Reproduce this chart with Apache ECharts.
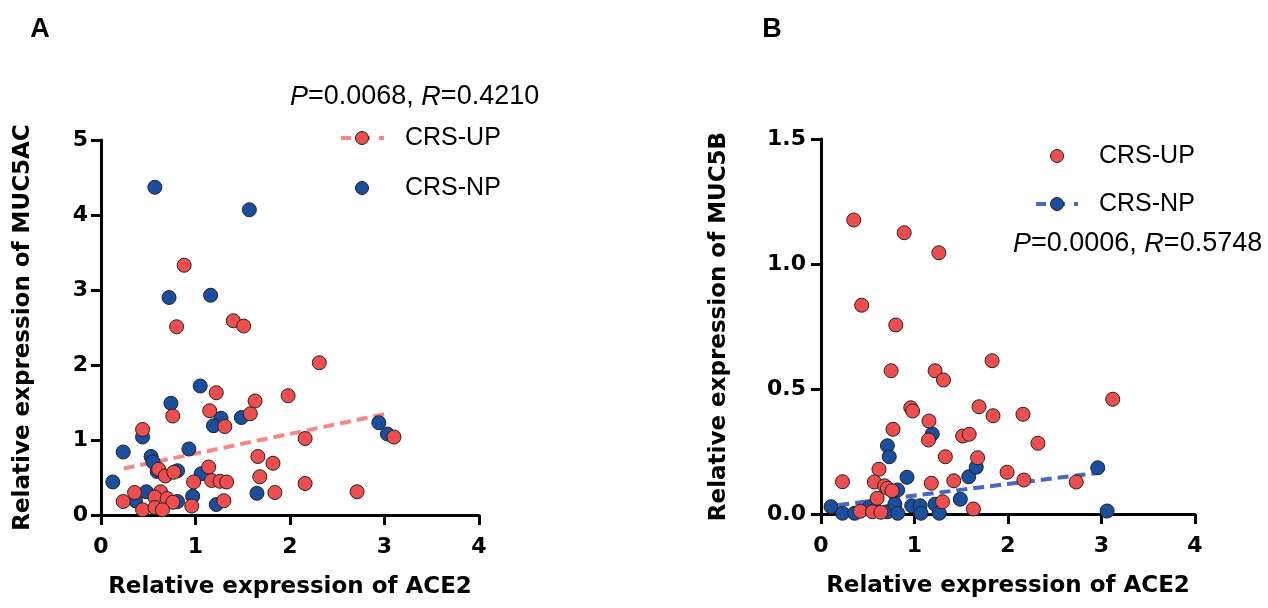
<!DOCTYPE html>
<html>
<head>
<meta charset="utf-8">
<script src="https://cdn.jsdelivr.net/npm/echarts@6/dist/echarts.min.js"></script>
<style>
  html, body { margin: 0; padding: 0; background: #fff; }
  #chart { width: 1268px; height: 608px; }
</style>
</head>
<body>
<div id="chart"></div>
<script>
// panel A: MUC5AC vs ACE2
const upA = [
  [0.88, 3.33], [0.80, 2.51], [1.40, 2.59], [1.51, 2.52], [1.22, 1.63], [1.98, 1.59],
  [1.63, 1.52], [0.76, 1.32], [1.15, 1.39], [1.58, 1.35], [1.31, 1.18], [0.44, 1.14],
  [1.66, 0.78], [1.82, 0.69], [1.68, 0.51], [1.84, 0.30], [0.61, 0.61], [0.68, 0.52],
  [0.77, 0.57], [1.14, 0.64], [0.98, 0.44], [1.17, 0.46], [1.26, 0.45], [1.33, 0.44],
  [0.355, 0.30], [0.235, 0.18], [0.63, 0.31], [0.57, 0.24], [0.70, 0.22], [0.76, 0.17],
  [0.44, 0.07], [0.57, 0.10], [0.65, 0.07], [0.96, 0.12], [1.30, 0.19], [2.31, 2.03],
  [2.16, 1.02], [3.10, 1.04], [2.16, 0.42], [2.71, 0.31]
];
const npA = [
  [0.57, 4.37], [1.57, 4.07], [0.72, 2.90], [1.16, 2.93], [1.05, 1.72], [0.74, 1.49],
  [0.44, 1.04], [0.235, 0.84], [0.53, 0.78], [0.55, 0.71], [0.93, 0.88], [1.27, 1.29],
  [1.19, 1.19], [1.485, 1.30], [0.595, 0.58], [0.81, 0.59], [1.06, 0.55], [0.125, 0.44],
  [0.48, 0.31], [0.365, 0.19], [0.81, 0.18], [0.97, 0.25], [1.22, 0.14], [1.65, 0.29],
  [2.94, 1.23], [3.03, 1.08]
];
const fitA = [[0.24, 0.62], [3.06, 1.36]];

// panel B: MUC5B vs ACE2
const upB = [
  [0.35, 1.176], [0.89, 1.125], [1.26, 1.045], [0.435, 0.835], [0.80, 0.756], [0.75, 0.573],
  [1.22, 0.573], [1.31, 0.536], [1.83, 0.613], [0.96, 0.425], [0.98, 0.412], [1.155, 0.372],
  [0.77, 0.339], [1.69, 0.429], [1.84, 0.393], [1.15, 0.296], [1.515, 0.312], [1.585, 0.319],
  [1.33, 0.229], [1.675, 0.225], [1.99, 0.167], [0.23, 0.129], [0.62, 0.179], [0.57, 0.128],
  [0.68, 0.113], [0.71, 0.103], [0.76, 0.093], [1.18, 0.123], [1.42, 0.133], [0.60, 0.063],
  [1.30, 0.049], [1.63, 0.02], [0.42, 0.011], [0.55, 0.009], [0.64, 0.007], [3.12, 0.459],
  [2.16, 0.399], [2.32, 0.283], [2.17, 0.136], [2.73, 0.128]
];
const npB = [
  [0.71, 0.273], [0.73, 0.229], [1.19, 0.32], [0.92, 0.147], [0.82, 0.096], [1.58, 0.149],
  [1.66, 0.187], [1.49, 0.059], [0.107, 0.029], [0.23, 0.003], [0.36, 0.003], [0.52, 0.029],
  [0.58, 0.016], [0.71, 0.009], [0.79, 0.039], [0.82, 0.003], [0.97, 0.033], [1.06, 0.033],
  [1.07, 0.003], [1.22, 0.039], [1.265, 0.003], [2.96, 0.185], [3.06, 0.012]
];
const fitB = [[0.185, 0.036], [2.97, 0.165]];

const statsA = ['0.0068', '0.4210'];
const statsB = ['0.0006', '0.5748'];

const RED = '#F04E4E';
const BLUE = '#1A4E9E';
const FIT_RED = '#F58787';
const FIT_BLUE = '#4866C2';
const FONT = '"Liberation Sans", Arial, sans-serif';
const BOLD_FONT = '"DejaVu Sans", sans-serif';

const axisCommon = {
  axisLine: { show: true, onZero: false, lineStyle: { color: '#000', width: 3 } },
  axisTick: { show: true, length: 10, lineStyle: { color: '#000', width: 3 } },
  splitLine: { show: false },
  axisLabel: { color: '#000', fontSize: 22, fontWeight: 'bold', fontFamily: BOLD_FONT },
  nameTextStyle: { color: '#000', fontSize: 23, fontWeight: 'bold', fontFamily: BOLD_FONT },
  nameLocation: 'middle'
};

const xAxisOf = (idx) => Object.assign({}, axisCommon, {
  type: 'value', gridIndex: idx, min: 0, max: 4, interval: 1,
  name: 'Relative expression of ACE2', nameGap: 61,
  axisLabel: Object.assign({}, axisCommon.axisLabel, { margin: 21 })
});

const scatter = (name, data, color, idx) => ({
  name: name, type: 'scatter', xAxisIndex: idx, yAxisIndex: idx,
  data: data, symbolSize: 14, clip: false, z: color === RED ? 4 : 3,
  itemStyle: { color: color, borderColor: '#222', borderWidth: 1, opacity: 1 }
});

const fit = (data, color, idx) => ({
  type: 'line', xAxisIndex: idx, yAxisIndex: idx, data: data,
  symbol: 'none', z: 2, silent: true,
  lineStyle: { color: color, width: 4, type: [11, 6] }
});

// legend pieces (not data)
const legendDot = (x, y, color) => ({
  type: 'circle', shape: { cx: x, cy: y, r: 6.5 },
  style: { fill: color, stroke: '#222', lineWidth: 1 }, z: 10
});
const legendDash = (x1, x2, y, color) => ({
  type: 'line', shape: { x1: x1, y1: y, x2: x2, y2: y },
  style: { stroke: color, lineWidth: 4, lineDash: [10, 9] }, z: 9
});
const legendText = (x, y, text) => ({
  type: 'text', x: x, y: y,
  style: { text: text, fill: '#000', fontSize: 25, fontFamily: FONT, verticalAlign: 'middle' }, z: 10
});
const statText = (x, y, s) => ({
  type: 'text', x: x, y: y, z: 10,
  style: {
    text: '{i|P}=' + s[0] + ', {i|R}=' + s[1],
    fill: '#000', fontSize: 27, fontFamily: FONT, verticalAlign: 'middle',
    rich: { i: { fontStyle: 'italic', fontSize: 27, fontFamily: FONT } }
  }
});
const panelLetter = (x, text) => ({
  type: 'text', x: x, y: 30, z: 10,
  style: { text: text, fill: '#000', fontSize: 27, fontWeight: 'bold', fontFamily: FONT,
           align: 'center', verticalAlign: 'middle' }
});

const chart = echarts.init(document.getElementById('chart'));
chart.setOption({
  backgroundColor: '#fff',
  animation: false,
  grid: [
    { left: 101, right: 789, top: 140, bottom: 93 },
    { left: 821, right: 73, top: 139, bottom: 94 }
  ],
  xAxis: [xAxisOf(0), xAxisOf(1)],
  yAxis: [
    Object.assign({}, axisCommon, {
      type: 'value', gridIndex: 0, min: 0, max: 5, interval: 1,
      name: 'Relative expression of MUC5AC', nameGap: 66,
      axisLabel: Object.assign({}, axisCommon.axisLabel, { margin: 13 })
    }),
    Object.assign({}, axisCommon, {
      type: 'value', gridIndex: 1, min: 0, max: 1.5, interval: 0.5,
      name: 'Relative expression of MUC5B', nameGap: 90,
      axisLabel: Object.assign({}, axisCommon.axisLabel, {
        margin: 15, formatter: (v) => v.toFixed(1)
      })
    })
  ],
  series: [
    fit(fitA, FIT_RED, 0),
    scatter('CRS-NP', npA, BLUE, 0),
    scatter('CRS-UP', upA, RED, 0),
    fit(fitB, FIT_BLUE, 1),
    scatter('CRS-NP', npB, BLUE, 1),
    scatter('CRS-UP', upB, RED, 1)
  ],
  graphic: [
    panelLetter(40, 'A'),
    panelLetter(772, 'B'),
    statText(290, 97, statsA),
    legendDash(341, 384, 138, FIT_RED),
    legendDot(362, 138, RED),
    legendText(405, 138, 'CRS-UP'),
    legendDot(362, 188, BLUE),
    legendText(405, 188, 'CRS-NP'),
    legendDot(1057, 156, RED),
    legendText(1099, 156, 'CRS-UP'),
    legendDash(1036, 1078, 204, FIT_BLUE),
    legendDot(1057, 204, BLUE),
    legendText(1099, 204, 'CRS-NP'),
    statText(1013, 244, statsB)
  ]
});
</script>
</body>
</html>
